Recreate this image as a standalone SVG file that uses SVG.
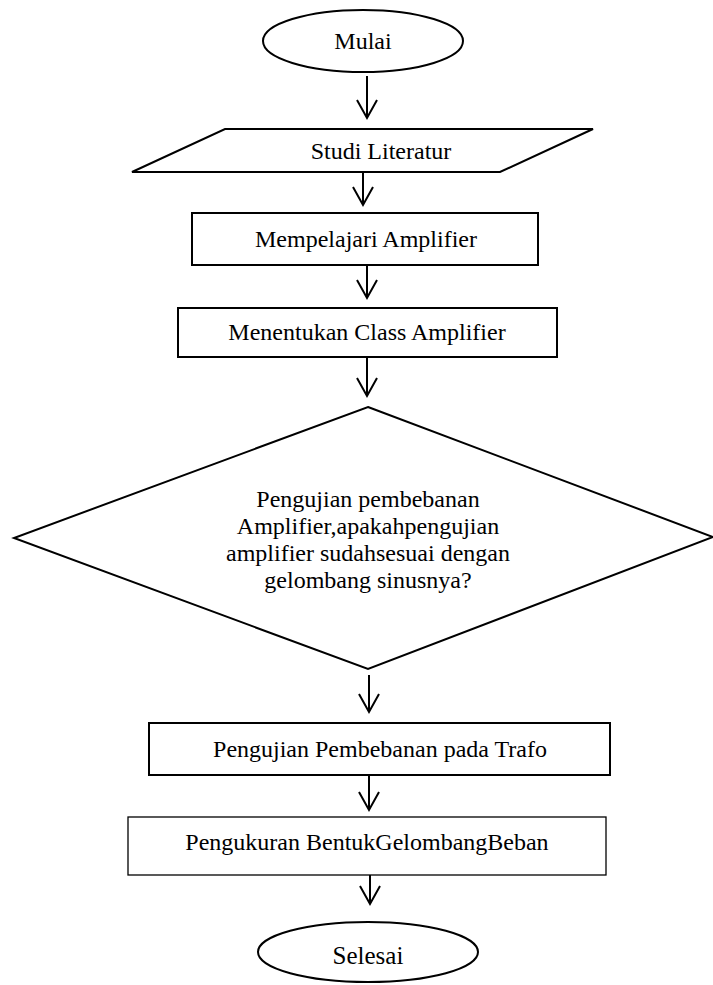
<svg xmlns="http://www.w3.org/2000/svg" width="713" height="985" viewBox="0 0 713 985">
<style>
  .shape { fill: #ffffff; stroke: #000000; stroke-width: 2; }
  .thin { fill: #ffffff; stroke: #000000; stroke-width: 1.3; }
  .lbl { font-family: "Liberation Serif", "Times New Roman", serif; font-size: 24px; fill: #000000; text-anchor: middle; }
  .conn { stroke: #000000; stroke-width: 2; fill: none; marker-end: url(#arr); }
</style>
<defs>
  <marker id="arr" markerUnits="userSpaceOnUse" viewBox="-20 -12 22 24" refX="0" refY="0" markerWidth="22" markerHeight="24" orient="auto" overflow="visible">
    <path d="M-18,-10 L0,0 L-18,10" fill="none" stroke="#000000" stroke-width="2"/>
  </marker>
</defs>
<rect width="713" height="985" fill="#ffffff"/>
<g id="connectors">
  <line class="conn" x1="367" y1="76" x2="367" y2="118"/>
  <line class="conn" x1="363" y1="172" x2="363" y2="205"/>
  <line class="conn" x1="367" y1="265" x2="367" y2="298"/>
  <line class="conn" x1="367" y1="357" x2="367" y2="396"/>
  <line class="conn" x1="369" y1="675" x2="369" y2="712"/>
  <line class="conn" x1="369" y1="775" x2="369" y2="810"/>
  <line class="conn" x1="370" y1="875" x2="370" y2="904"/>
</g>
<g id="mulai">
  <ellipse class="shape" cx="363" cy="41" rx="100" ry="31"/>
  <text class="lbl" x="363" y="49">Mulai</text>
</g>
<g id="studi-literatur">
  <polygon class="shape" points="225,129 593,129 500,172 132,172"/>
  <text class="lbl" x="381" y="159">Studi Literatur</text>
</g>
<g id="mempelajari">
  <rect class="shape" x="192" y="213" width="346" height="52"/>
  <text class="lbl" x="366" y="247">Mempelajari Amplifier</text>
</g>
<g id="menentukan">
  <rect class="shape" x="178" y="308" width="379" height="49"/>
  <text class="lbl" x="367" y="340">Menentukan Class Amplifier</text>
</g>
<g id="pengujian-amplifier">
  <polygon class="shape" points="368,407 713,537 368,669 14,538"/>
  <text class="lbl" x="368" y="507">Pengujian pembebanan</text>
  <text class="lbl" x="368" y="534">Amplifier,apakahpengujian</text>
  <text class="lbl" x="368" y="561">amplifier sudahsesuai dengan</text>
  <text class="lbl" x="368" y="588">gelombang sinusnya?</text>
</g>
<g id="pengujian-trafo">
  <rect class="shape" x="149" y="723" width="461" height="52"/>
  <text class="lbl" x="380" y="757">Pengujian Pembebanan pada Trafo</text>
</g>
<g id="pengukuran">
  <rect class="thin" x="128" y="817" width="478" height="58"/>
  <text class="lbl" x="367" y="850">Pengukuran BentukGelombangBeban</text>
</g>
<g id="selesai">
  <ellipse class="shape" cx="368" cy="952" rx="110" ry="30"/>
  <text class="lbl" x="368" y="964" style="font-size:25px">Selesai</text>
</g>
</svg>
